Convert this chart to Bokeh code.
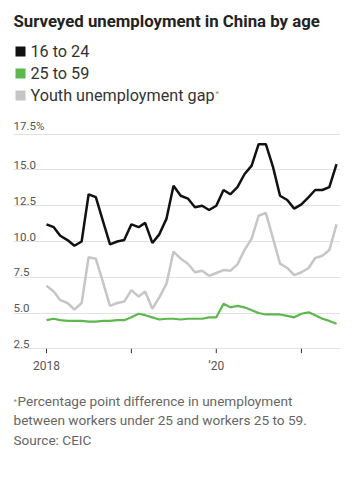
import pandas as pd
from bokeh.plotting import figure
from bokeh.models import Range1d, Label, LabelSet, ColumnDataSource, BoxAnnotation
from bokeh.core.properties import value
from bokeh.embed import file_html
from bokeh.resources import INLINE

# ---------------- data ----------------
months = pd.date_range("2018-01-01", periods=42, freq="MS")
youth_16_24 = [11.2, 11.0, 10.4, 10.1, 9.7, 10.0, 13.3, 13.1, 11.4, 9.8,
               10.0, 10.1, 11.2, 11.0, 11.3, 9.9, 10.5, 11.6, 13.9, 13.2,
               13.0, 12.4, 12.5, 12.2, 12.5, 13.6, 13.3, 13.8, 14.7, 15.3,
               16.8, 16.8, 15.2, 13.2, 12.9, 12.3, 12.6, 13.1, 13.6, 13.6,
               13.8, 15.4]
adult_25_59 = [4.5, 4.6, 4.5, 4.45, 4.45, 4.45, 4.4, 4.4, 4.45, 4.45,
               4.5, 4.5, 4.7, 4.95, 4.85, 4.7, 4.55, 4.6, 4.6, 4.55,
               4.6, 4.6, 4.6, 4.7, 4.7, 5.65, 5.4, 5.5, 5.4, 5.2,
               5.0, 4.9, 4.9, 4.9, 4.8, 4.7, 4.95, 5.05, 4.85, 4.6,
               4.45, 4.25]
youth_gap = [6.9, 6.5, 5.9, 5.7, 5.25, 5.7, 8.9, 8.8, 7.15, 5.5,
             5.7, 5.8, 6.6, 6.15, 6.5, 5.3, 6.1, 7.05, 9.3, 8.8,
             8.45, 7.85, 7.95, 7.6, 7.8, 8.0, 7.95, 8.4, 9.4, 10.2,
             11.8, 12.0, 10.2, 8.45, 8.15, 7.65, 7.85, 8.15, 8.85, 9.0,
             9.4, 11.2]
y_ticks = [2.5, 5.0, 7.5, 10.0, 12.5, 15.0, 17.5]
y_tick_labels = ["2.5", "5.0", "7.5", "10.0", "12.5", "15.0", "17.5%"]
x_ticks = pd.to_datetime(["2018-01-01", "2019-01-01", "2020-01-01", "2021-01-01"])
x_tick_labels = ["2018", "", "\u201920", ""]

series_names = ["16 to 24", "25 to 59", "Youth unemployment gap"]
colors = ["#111111", "#5cb84c", "#c6c6c6"]

title_text = "Surveyed unemployment in China by age"
note_lines = ["Percentage point difference in unemployment",
              "between workers under 25 and workers 25 to 59.",
              "Source: CEIC"]

FONT = "Roboto"

# ---------------- figure ----------------
W, H = 351, 472
origin = pd.Timestamp("2018-01-01")
px_per_day = 0.23266
x_start = (origin - pd.Timedelta(days=round(33 / px_per_day))).to_pydatetime()
x_end = (origin + pd.Timedelta(days=round(294 / px_per_day))).to_pydatetime()

p = figure(width=W, height=H, output_backend="svg", toolbar_location=None,
           x_axis_type="datetime",
           x_range=Range1d(x_start, x_end),
           y_range=Range1d(-6.146, 26.286),
           min_border_left=13, min_border_right=11, min_border_top=8, min_border_bottom=0)
p.axis.visible = False
p.xgrid.visible = False
p.outline_line_color = None
p.ygrid.ticker = y_ticks
p.ygrid.grid_line_color = "#e2e2e2"
p.ygrid.grid_line_width = 1

# lines
p.line(months, youth_gap, line_color=colors[2], line_width=2.5)
p.line(months, adult_25_59, line_color=colors[1], line_width=2.2)
p.line(months, youth_16_24, line_color=colors[0], line_width=2.5)

# x ticks
n = len(x_ticks)
p.segment(x0=x_ticks, y0=[y_ticks[0]] * n, x1=x_ticks, y1=[y_ticks[0] - 0.3] * n,
          line_color="#333333", line_width=1)
xsrc = ColumnDataSource(dict(x=x_ticks, y=[y_ticks[0]] * n, t=x_tick_labels))
p.add_layout(LabelSet(x="x", y="y", text="t", source=xsrc, text_align="center",
                      text_baseline="middle", y_offset=-17, text_font=value(FONT),
                      text_font_size="12px", text_color="#555555"))

# y tick labels
ysrc = ColumnDataSource(dict(x=[0] * len(y_ticks), y=y_ticks, t=y_tick_labels))
p.add_layout(LabelSet(x="x", y="y", text="t", source=ysrc, x_units="screen",
                      text_align="left", text_baseline="bottom", y_offset=1,
                      text_font=value(FONT), text_font_size="11.5px",
                      text_color="#555555"))

def screen_y(Y):
    return 472 - Y

# title
p.add_layout(Label(x=0, y=screen_y(20), x_units="screen", y_units="screen",
                   text=title_text, text_font=FONT, text_font_style="bold",
                   text_font_size="16.8px", text_color="#222222", text_baseline="middle"))

# legend
for i, (name, c) in enumerate(zip(series_names, colors)):
    yc = 51 + 22 * i
    p.add_layout(BoxAnnotation(left=2, right=12, top=screen_y(yc - 5), bottom=screen_y(yc + 5),
                               left_units="screen", right_units="screen",
                               top_units="screen", bottom_units="screen",
                               fill_color=c, fill_alpha=1, line_color=None))
    p.add_layout(Label(x=17, y=screen_y(yc), x_units="screen", y_units="screen",
                       text=name, text_font=FONT, text_font_size="16.2px",
                       text_color="#333333", text_baseline="middle"))
p.add_layout(Label(x=202, y=screen_y(93), x_units="screen", y_units="screen",
                   text="*", text_font=FONT, text_font_size="8px",
                   text_color="#888888", text_baseline="middle"))

# notes
p.add_layout(Label(x=0, y=screen_y(401), x_units="screen", y_units="screen",
                   text="*", text_font=FONT, text_font_size="8px",
                   text_color="#888888", text_baseline="middle"))
for i, line in enumerate(note_lines):
    yc = [400, 419, 439][i]
    p.add_layout(Label(x=4 if i == 0 else 0, y=screen_y(yc), x_units="screen", y_units="screen",
                       text=line, text_font=FONT, text_font_size="13.6px",
                       text_color="#666666", text_baseline="middle"))

open("out.html", "w").write(file_html(p, INLINE))
